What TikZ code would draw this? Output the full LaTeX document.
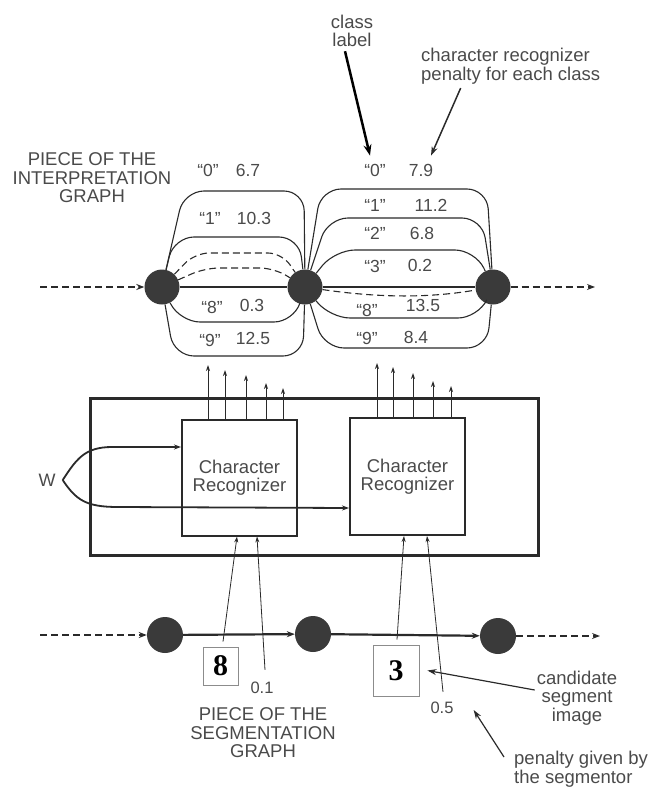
\documentclass[tikz,border=0pt]{standalone}
\usepackage{fontspec}
\setmainfont{Liberation Sans}
\newfontfamily\segfont{Liberation Serif}
\usetikzlibrary{arrows.meta}
\definecolor{txt}{HTML}{4A4A4A}
\definecolor{dotc}{HTML}{3A3A3A}
\definecolor{linec}{HTML}{2A2A2A}
\begin{document}
\begin{tikzpicture}[x=1pt,y=-1pt,
  every node/.style={font=\fontsize{18}{18.5}\selectfont, text=txt},
  dot/.style={circle, fill=dotc, minimum size=35pt, inner sep=0pt},
  arcline/.style={line width=1.1pt, draw=linec, rounded corners=20pt},
  arcdash/.style={arcline, dash pattern=on 7pt off 4pt},
  lbl/.style={font=\fontsize{17.5}{17.5}\selectfont, inner sep=0pt},
  txtblock/.style={align=center, inner sep=0pt, font=\fontsize{18.5}{18.5}\selectfont},
  outarr/.style={line width=0.9pt, draw=linec, -{Stealth[length=6pt,width=4pt]}},
  inarr/.style={line width=0.8pt, draw=linec, -{Stealth[length=6pt,width=4pt]}},
  dashin/.style={line width=2pt, draw=linec, dash pattern=on 7pt off 4pt, -{Stealth[length=8pt,width=6pt]}},
  segline/.style={line width=2.2pt, draw=linec, -{Stealth[length=8pt,width=6pt]}},
  wline/.style={line width=1.8pt, draw=linec, -{Stealth[length=7pt,width=5pt]}},
  recbox/.style={draw=linec, line width=2pt, minimum width=115pt, minimum height=116pt, inner sep=0pt, align=center, font=\fontsize{18.5}{18.5}\selectfont},
  segbox/.style={draw=black!45, line width=0.8pt, inner sep=0pt, text=black, font=\segfont\bfseries\fontsize{30}{30}\selectfont},
  annarrow/.style={line width=1.5pt, draw=linec, -{Stealth[length=9pt,width=6pt]}},
]
\useasboundingbox (0,0) rectangle (650,787);

% ---------- interpretation graph ----------
\node[dot] (L) at (162,287) {};
\node[dot] (M) at (305,287) {};
\node[dot] (R) at (493,287) {};
\coordinate (inL) at (40,287);
\coordinate (outR) at (595,287);
\draw[dashin] (inL) -- (L);
\draw[dashin] (R) -- (outR);

% left group
\draw[arcline] (L) -- (184,191) -- (304,191) -- (M);
\draw[arcline] (L) -- (174,237) -- (299,237) -- (M);
\draw[arcdash, rounded corners=14pt] (L) -- (195,253) -- (282,253) -- (M);
\draw[arcdash, rounded corners=14pt] (L) -- (205,268) -- (274,268) -- (M);
\draw[arcline] (L) -- (M);
\draw[arcline] (L) -- (180,322) -- (294,322) -- (M);
\draw[arcline] (L) -- (174,356) -- (303,356) -- (M);

% right group
\draw[arcline] (M) -- (321,189) -- (487,189) -- (R);
\draw[arcline] (M) -- (328,218) -- (482,218) -- (R);
\draw[arcline] (M) -- (335,250) -- (475,250) -- (R);
\draw[arcline] (M) -- (R);
\draw[arcdash] (M) .. controls (380,298) and (430,298) .. (R);
\draw[arcline] (M) -- (330,318) -- (478,318) -- (R);
\draw[arcline] (M) -- (324,348) -- (487,348) -- (R);

% labels left
\node[lbl] (l0) at (208,170) {“0”};  \node[lbl] (v0) at (248,170) {6.7};
\node[lbl] (l1) at (210,218) {“1”};  \node[lbl] (v1) at (254,218) {10.3};
\node[lbl] (l8) at (212,307) {“8”};  \node[lbl] (v8) at (252,305) {0.3};
\node[lbl] (l9) at (210,340) {“9”};  \node[lbl] (v9) at (253,338) {12.5};
% labels right
\node[lbl] (r0) at (375,170) {“0”};  \node[lbl] (w0) at (421,170) {7.9};
\node[lbl] (r1) at (375,205) {“1”};  \node[lbl] (w1) at (431,205) {11.2};
\node[lbl] (r2) at (375,233) {“2”};  \node[lbl] (w2) at (422,233) {6.8};
\node[lbl] (r3) at (375,266) {“3”};  \node[lbl] (w3) at (420,265) {0.2};
\node[lbl] (r8) at (367,310) {“8”};  \node[lbl] (w8) at (423,305) {13.5};
\node[lbl] (r9) at (367,338) {“9”};  \node[lbl] (w9) at (416,337) {8.4};

% annotations top
\node[txtblock] (cls) at (352,31) {class\\label};
\draw[line width=2.5pt, draw=black, -{Stealth[length=11pt,width=8pt]}] ([xshift=-7pt,yshift=-4pt]cls.south) -- ([xshift=-5pt,yshift=8pt]r0.north);
\node[txtblock, align=left, anchor=west] (pen) at (421,66) {character recognizer\\penalty for each class};
\draw[annarrow] ([xshift=-50pt,yshift=-4pt]pen.south) -- ([xshift=10pt,yshift=8pt]w0.north);
\node[txtblock] (pig) at (92,178) {PIECE OF THE\\INTERPRETATION\\GRAPH};

% ---------- recognizer module ----------
\node[draw=linec, line width=3pt, minimum width=448pt, minimum height=157pt, inner sep=0pt] (frame) at (314,476.5) {};
\node[recbox] (rec1) at (239.5,477.5) {Character\\Recognizer};
\node[recbox, minimum height=117pt] (rec2) at (407.5,476.5) {Character\\Recognizer};

% outputs
\foreach \dx/\ty in {-31.5/365, -14.5/370, 6.5/375, 26.5/383, 43.5/388}{
  \draw[outarr] ([xshift=\dx pt]rec1.north) -- ([xshift=\dx pt]rec1.north |- 0,\ty);
}
\foreach \dx/\ty in {-30.5/363, -14.5/367, 5.5/373, 25.5/381, 43.5/386}{
  \draw[outarr] ([xshift=\dx pt]rec2.north) -- ([xshift=\dx pt]rec2.north |- 0,\ty);
}

% W parameter
\node[inner sep=0pt] (W) at (47,480) {W};
\draw[wline] ([xshift=7pt]W.east) .. controls (76,460) and (84,447) .. (112,447) -- ([yshift=30.5pt]rec1.west);
\draw[wline] ([xshift=7pt]W.east) .. controls (76,500) and (86,507) .. (118,507) -- ([yshift=-31.5pt]rec2.west);

% ---------- segmentation graph ----------
\node[dot, minimum size=36pt] (S1) at (165,635) {};
\node[dot, minimum size=36pt] (S2) at (313,634) {};
\node[dot, minimum size=36pt] (S3) at (498,636) {};
\coordinate (inS) at (40,635);
\coordinate (outS) at (600,636);
\draw[dashin] (inS) -- (S1);
\draw[dashin] (S3) -- (outS);
\draw[segline] (S1) -- (S2);
\draw[segline] (S2) -- (S3);

\node[segbox, minimum width=35pt, minimum height=38pt] (seg8) at (220.5,666) {8};
\node[segbox, minimum width=46pt, minimum height=51pt] (seg3) at (396,670.5) {3};
\node[lbl, font=\fontsize{16.5}{16.5}\selectfont] (p1) at (262,688) {0.1};
\node[lbl, font=\fontsize{16.5}{16.5}\selectfont] (p5) at (442,708) {0.5};

\draw[inarr] ([xshift=2.5pt,yshift=5pt]seg8.north) -- ([xshift=-2.5pt]rec1.south);
\draw[inarr] ([xshift=3pt,yshift=12pt]p1.north) -- ([xshift=17.5pt]rec1.south);
\draw[inarr] ([xshift=1pt,yshift=5pt]seg3.north) -- ([xshift=-3.5pt]rec2.south);
\draw[inarr] ([xshift=1pt,yshift=10pt]p5.north) -- ([xshift=19.5pt]rec2.south);

\node[txtblock] (psg) at (263,733) {PIECE OF THE\\SEGMENTATION\\GRAPH};
\node[txtblock] (cand) at (577,698) {candidate\\segment\\image};
\draw[annarrow, line width=1.2pt] ([xshift=-2pt,yshift=8pt]cand.west) -- ([xshift=8pt]seg3.east);
\node[txtblock, align=left, anchor=west] (pgs) at (514,769) {penalty given by\\the segmentor};
\draw[annarrow, line width=1.2pt] ([xshift=-10pt,yshift=12pt]pgs.west) -- ([xshift=20pt,yshift=-2pt]p5.east);
\end{tikzpicture}
\end{document}
